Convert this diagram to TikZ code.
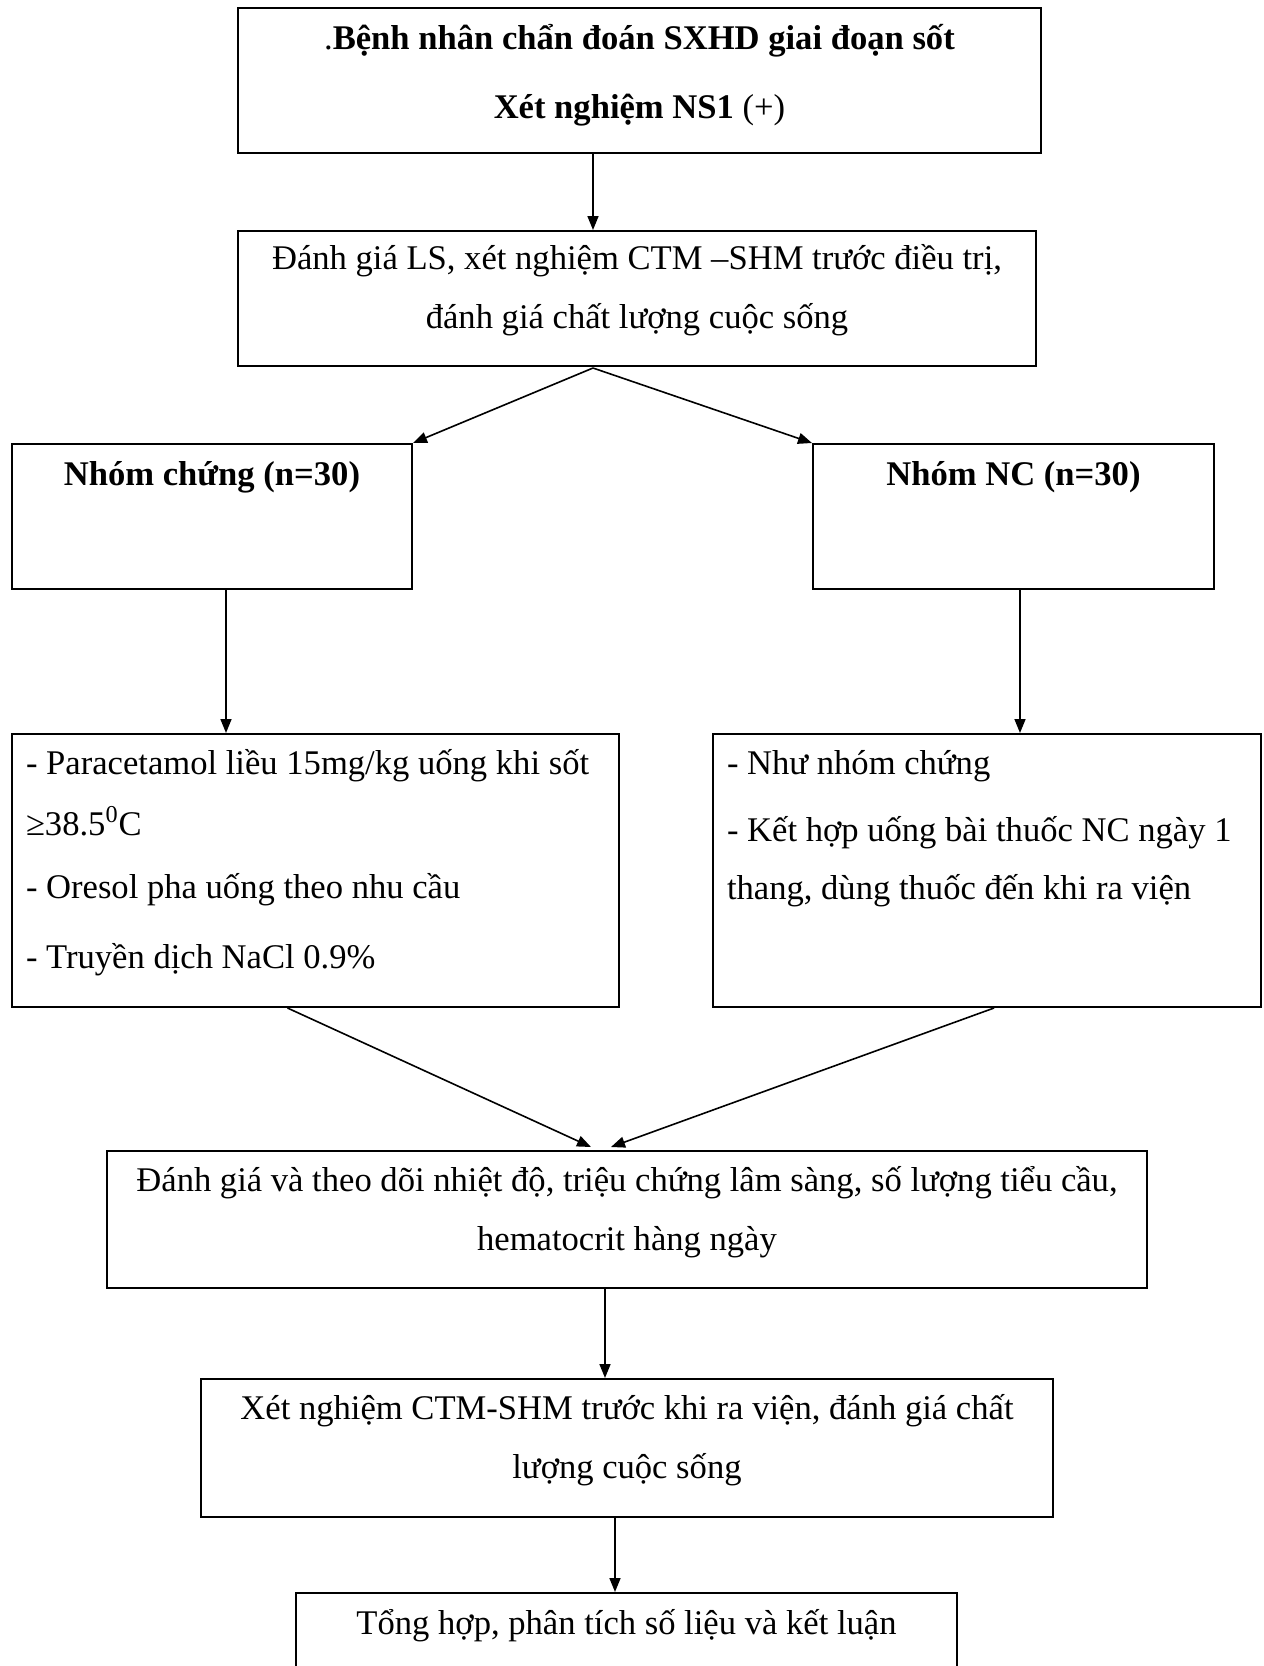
\documentclass[tikz,border=0pt]{standalone}
\usepackage{fontspec}
\setmainfont{Liberation Serif}
\usepackage{tikz}
\usetikzlibrary{arrows.meta, positioning, calc}

\begin{document}
\begin{tikzpicture}[
    x=0.5pt, y=-0.5pt,
    font=\fontsize{17.3}{29.5}\selectfont,
    >={Triangle[length=7pt, width=5.5pt]},
    box/.style={draw, line width=1pt, anchor=north west, inner xsep=4pt, inner ysep=0pt, align=flush center},
    listbox/.style={box, inner xsep=7pt, align=flush left},
    arrow/.style={->, line width=0.8pt}
]
\useasboundingbox (0, 0) rectangle (1264, 1666);

% Nodes
\node[box, text width=393.5pt, text height=20.5pt, text depth=52pt] (start) at (237, 7)
    {.\textbf{Bệnh nhân chẩn đoán SXHD giai đoạn sốt}\\[5pt]\textbf{Xét nghiệm NS1} (+)};

\node[box, text width=391pt, text height=19pt, text depth=48.5pt] (eval) at (237, 230)
    {Đánh giá LS, xét nghiệm CTM –SHM trước điều trị,\\đánh giá chất lượng cuộc sống};

% Two groups
\node[box, text width=192pt, text height=20.5pt, text depth=52pt] (ctrl) at (11, 443) {\textbf{Nhóm chứng (n=30)}};
\node[box, text width=192.5pt, text height=20.5pt, text depth=52pt] (nc) at (812, 443) {\textbf{Nhóm NC (n=30)}};

\node[listbox, text width=289.5pt, text height=20pt, text depth=116.5pt] (ctrlrx) at (11, 733)
    {- Paracetamol liều 15mg/kg uống khi sốt\\[1pt]≥38.5\textsuperscript{0}C\\[2pt]- Oresol pha uống theo nhu cầu\\[5.5pt]- Truyền dịch NaCl 0.9\%};
\node[listbox, text width=260pt, text height=20pt, text depth=116.5pt] (ncrx) at (712, 733)
    {- Như nhóm chứng\\[4pt]- Kết hợp uống bài thuốc NC ngày 1\\[-0.5pt]thang, dùng thuốc đến khi ra viện};

% Follow-up
\node[box, text width=512pt, text height=20pt, text depth=48.5pt] (follow) at (106, 1150)
    {Đánh giá và theo dõi nhiệt độ, triệu chứng lâm sàng, số lượng tiểu cầu,\\hematocrit hàng ngày};
\node[box, text width=418pt, text height=20.25pt, text depth=48.75pt] (retest) at (200, 1378)
    {Xét nghiệm CTM-SHM trước khi ra viện, đánh giá chất\\lượng cuộc sống};
\node[box, text width=322.5pt, text height=20.75pt, text depth=17.25pt] (summary) at (295, 1592)
    {Tổng hợp, phân tích số liệu và kết luận};

% Arrows
\coordinate (split) at (593, 368);
\coordinate (armL) at (226, 0);
\coordinate (armR) at (1020, 0);
\coordinate (down1) at (605, 0);
\coordinate (down2) at (615, 0);

\draw[arrow] (start.south -| split) -- (eval.north -| split);
\draw[arrow] (split) -- (ctrl.north east);
\draw[arrow] (split) -- (nc.north west);
\draw[arrow] (ctrl.south -| armL) -- (ctrlrx.north -| armL);
\draw[arrow] (nc.south -| armR) -- (ncrx.north -| armR);
\draw[arrow] ([xshift=-14pt]ctrlrx.south) -- ([xshift=-18pt, yshift=1.5pt]follow.north);
\draw[arrow] ([xshift=3.5pt]ncrx.south) -- ([xshift=-8pt, yshift=1.5pt]follow.north);
\draw[arrow] (follow.south -| down1) -- (retest.north -| down1);
\draw[arrow] (retest.south -| down2) -- (summary.north -| down2);

\end{tikzpicture}
\end{document}
